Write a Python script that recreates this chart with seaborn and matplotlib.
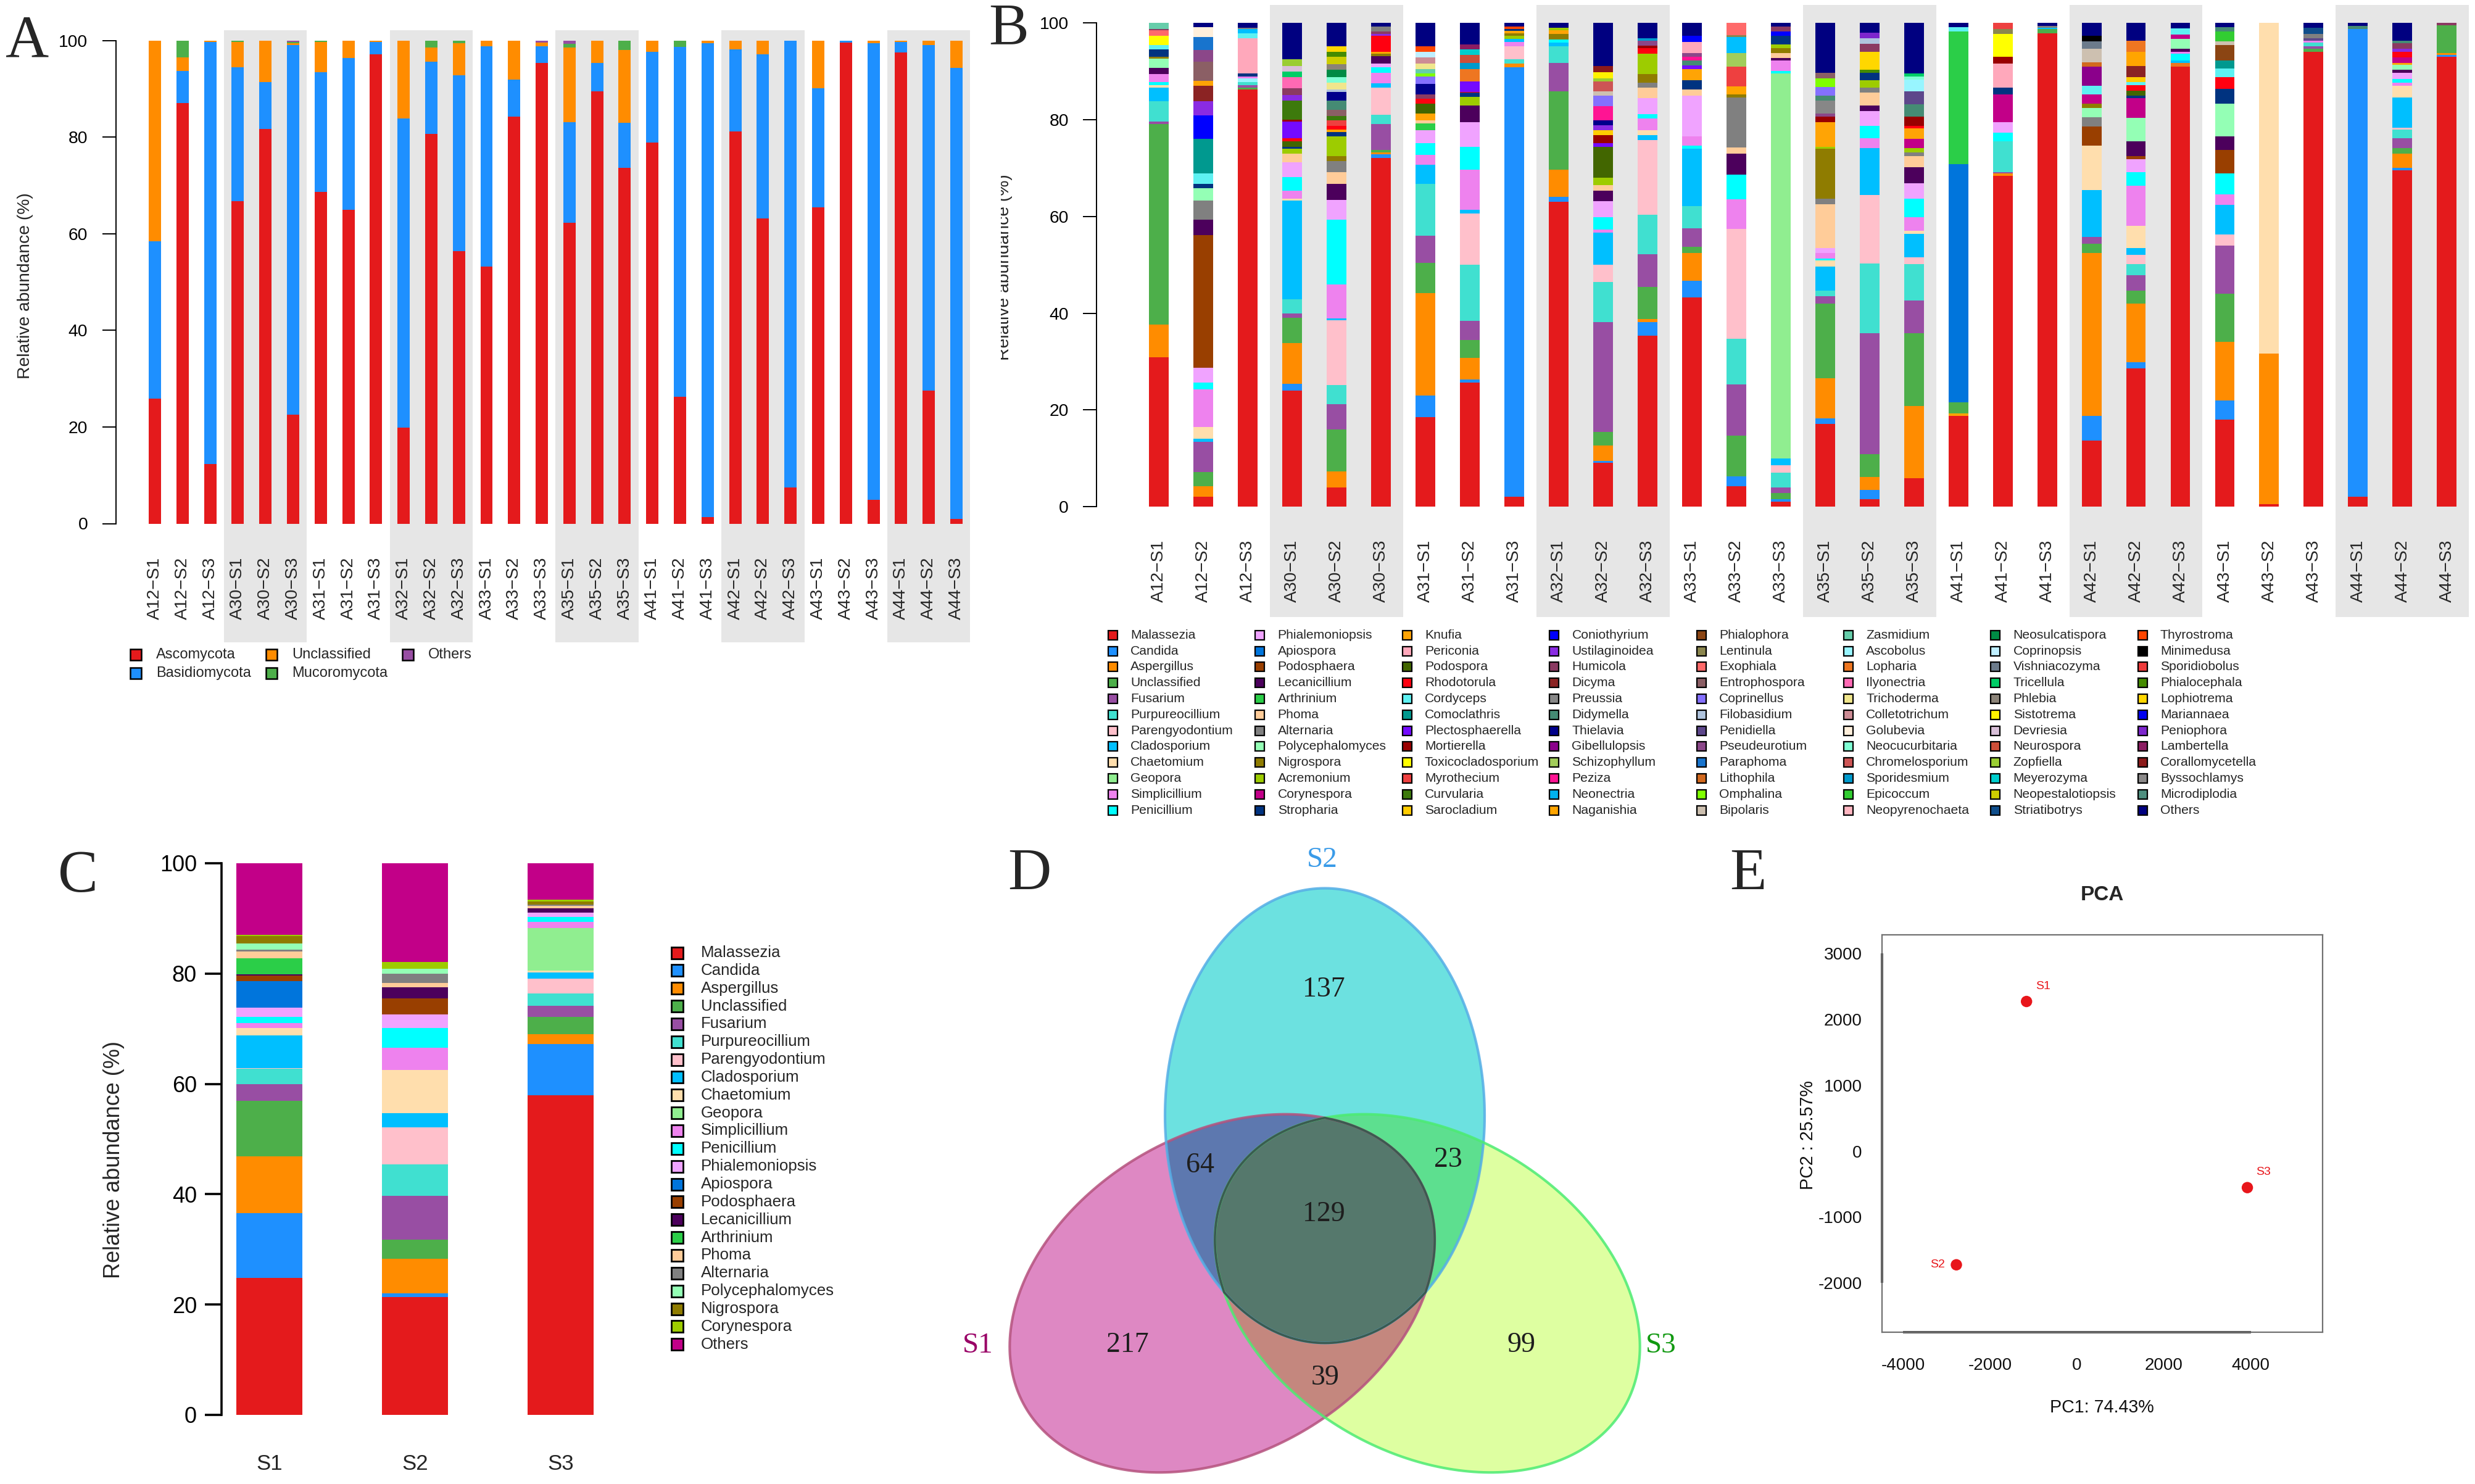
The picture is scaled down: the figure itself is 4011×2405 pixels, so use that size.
import numpy as np
import pandas as pd
import seaborn as sns
import matplotlib.pyplot as plt
from matplotlib.patches import Rectangle, Polygon
from matplotlib.transforms import Bbox, TransformedBbox

sns.set_style("white")
plt.rcParams["font.family"] = ["Liberation Sans", "DejaVu Sans"]
SERIF = ["Liberation Serif", "DejaVu Serif"]

W, H, DPI = 4012, 2405, 200

# === Samples ===
groups = ["12", "30", "31", "32", "33", "35", "41", "42", "43", "44"]
samples = [f"A{g}\u2212S{s}" for g in groups for s in (1, 2, 3)]

# === Panel A: phylum level (%) ===
phyla = ["Ascomycota", "Basidiomycota", "Unclassified", "Mucoromycota", "Others"]
phylum_colors = ["#E41A1C", "#1E90FF", "#FF8C00", "#4DAF4A", "#984EA3"]
ascomycota = [25.9, 87.0, 12.3, 66.8, 81.7, 22.5, 68.7, 64.9, 97.2, 19.9, 80.7, 56.4, 53.2, 84.2, 95.3,
              62.3, 89.5, 73.7, 78.9, 26.3, 1.3, 81.2, 63.2, 7.5, 65.5, 99.6, 4.9, 97.5, 27.5, 0.9]
basidiomycota = [32.6, 6.7, 87.4, 27.7, 9.7, 76.5, 24.7, 31.5, 2.5, 64.0, 14.9, 36.4, 45.6, 7.7, 3.5,
                 20.8, 5.8, 9.3, 18.8, 72.4, 98.1, 17.0, 34.0, 92.5, 24.6, 0.4, 94.5, 2.2, 71.5, 93.4]
unclassified_a = [41.5, 2.8, 0.3, 5.2, 8.6, 0.5, 6.3, 3.6, 0.3, 16.1, 2.9, 6.7, 1.2, 8.1, 0.8,
                  15.4, 4.7, 15.0, 2.3, 0.0, 0.6, 1.8, 2.8, 0.0, 9.9, 0.0, 0.6, 0.3, 1.0, 5.7]
mucoromycota = [0.0, 3.5, 0.0, 0.3, 0.0, 0.2, 0.3, 0.0, 0.0, 0.0, 1.5, 0.5, 0.0, 0.0, 0.0,
                0.8, 0.0, 2.0, 0.0, 1.3, 0.0, 0.0, 0.0, 0.0, 0.0, 0.0, 0.0, 0.0, 0.0, 0.0]
others_a = [0.0, 0.0, 0.0, 0.0, 0.0, 0.3, 0.0, 0.0, 0.0, 0.0, 0.0, 0.0, 0.0, 0.0, 0.4,
            0.7, 0.0, 0.0, 0.0, 0.0, 0.0, 0.0, 0.0, 0.0, 0.0, 0.0, 0.0, 0.0, 0.0, 0.0]

# === Panel B: genus level, legend order and colours ===
genera = [
    "Malassezia", "Candida", "Aspergillus", "Unclassified", "Fusarium", "Purpureocillium",
    "Parengyodontium", "Cladosporium", "Chaetomium", "Geopora", "Simplicillium", "Penicillium",
    "Phialemoniopsis", "Apiospora", "Podosphaera", "Lecanicillium", "Arthrinium", "Phoma",
    "Alternaria", "Polycephalomyces", "Nigrospora", "Acremonium", "Corynespora", "Stropharia",
    "Knufia", "Periconia", "Podospora", "Rhodotorula", "Cordyceps", "Comoclathris",
    "Plectosphaerella", "Mortierella", "Toxicocladosporium", "Myrothecium", "Curvularia", "Sarocladium",
    "Coniothyrium", "Ustilaginoidea", "Humicola", "Dicyma", "Preussia", "Didymella",
    "Thielavia", "Gibellulopsis", "Schizophyllum", "Peziza", "Neonectria", "Naganishia",
    "Phialophora", "Lentinula", "Exophiala", "Entrophospora", "Coprinellus", "Filobasidium",
    "Penidiella", "Pseudeurotium", "Paraphoma", "Lithophila", "Omphalina", "Bipolaris",
    "Zasmidium", "Ascobolus", "Lopharia", "Ilyonectria", "Trichoderma", "Colletotrichum",
    "Golubevia", "Neocucurbitaria", "Chromelosporium", "Sporidesmium", "Epicoccum", "Neopyrenochaeta",
    "Neosulcatispora", "Coprinopsis", "Vishniacozyma", "Tricellula", "Phlebia", "Sistotrema",
    "Devriesia", "Neurospora", "Zopfiella", "Meyerozyma", "Neopestalotiopsis", "Striatibotrys",
    "Thyrostroma", "Minimedusa", "Sporidiobolus", "Phialocephala", "Lophiotrema", "Mariannaea",
    "Peniophora", "Lambertella", "Corallomycetella", "Byssochlamys", "Microdiplodia", "Others",
]
genus_colors = [
    "#E41A1C", "#1E90FF", "#FF8C00", "#4DAF4A", "#984EA3", "#40E0D0",
    "#FFC0CB", "#00BFFF", "#FFDEAD", "#90EE90", "#EE82EE", "#00FFFF",
    "#F0A3FF", "#0075DC", "#993F00", "#4C005C", "#2BCE48", "#FFCC99",
    "#808080", "#94FFB5", "#8F7C00", "#9DCC00", "#C20088", "#003380",
    "#FFA405", "#FFA8BB", "#426600", "#FF0010", "#5EF1F2", "#00998F",
    "#740AFF", "#990000", "#FFFF00", "#EE4040", "#3D7A0C", "#FFCC00",
    "#0000FF", "#8A2BE2", "#8B3A62", "#8B2323", "#878787", "#458B74",
    "#00008B", "#8B008B", "#A2CD5A", "#FF1493", "#00B2EE", "#FFA500",
    "#8B4513", "#8B864E", "#FF6A6A", "#8B5F65", "#8470FF", "#B0C4DE",
    "#5D478B", "#8B4789", "#1874CD", "#D2691E", "#7FFF00", "#CDC0B0",
    "#66CDAA", "#98F5FF", "#EE7621", "#FF69B4", "#F0E68C", "#CD8C95",
    "#FFEFDB", "#7FFFD4", "#CD5555", "#009ACD", "#32CD32", "#FFB6C1",
    "#008B45", "#BFEFFF", "#6C7B8B", "#00CD66", "#8B8378", "#FFF200",
    "#D8BFD8", "#CD4F39", "#9ACD32", "#00CDCD", "#CDCD00", "#104E8B",
    "#FF4500", "#000000", "#EE3B3B", "#458B00", "#FFD700", "#0000EE",
    "#7D26CD", "#8B1C62", "#8B1A1A", "#8B8989", "#4F8F7F", "#000080",
]

# cumulative tops (%) read bottom to top for each sample
b_a12_s1 = [("Malassezia", 30.9), ("Aspergillus", 37.6), ("Unclassified", 79.1), ("Fusarium", 79.6),
            ("Purpureocillium", 83.8), ("Cladosporium", 86.7), ("Chaetomium", 87.1), ("Penicillium", 87.8),
            ("Simplicillium", 89.4), ("Lecanicillium", 90.7), ("Polycephalomyces", 92.7), ("Nigrospora", 93.0),
            ("Stropharia", 94.5), ("Cordyceps", 95.4), ("Toxicocladosporium", 97.4), ("Exophiala", 98.5),
            ("Humicola", 98.7), ("Zasmidium", 100)]
b_a12_s2 = [("Malassezia", 2.1), ("Aspergillus", 4.2), ("Unclassified", 7.1), ("Fusarium", 13.4),
            ("Cladosporium", 14.0), ("Chaetomium", 16.4), ("Simplicillium", 24.2), ("Penicillium", 25.7),
            ("Phialemoniopsis", 28.7), ("Podosphaera", 56.1), ("Lecanicillium", 59.3), ("Alternaria", 63.3),
            ("Polycephalomyces", 65.8), ("Stropharia", 66.7), ("Cordyceps", 68.9), ("Comoclathris", 76.0),
            ("Coniothyrium", 80.9), ("Ustilaginoidea", 83.8), ("Dicyma", 87.0), ("Knufia", 88.1),
            ("Entrophospora", 92.0), ("Pseudeurotium", 94.4), ("Paraphoma", 97.1), ("Golubevia", 99.2),
            ("Others", 100)]
b_a12_s3 = [("Malassezia", 86.3), ("Unclassified", 86.7), ("Fusarium", 87.1), ("Purpureocillium", 87.8),
            ("Ascobolus", 88.5), ("Simplicillium", 89.0), ("Stropharia", 89.6), ("Periconia", 96.8),
            ("Cordyceps", 97.9), ("Cladosporium", 98.7), ("Alternaria", 99.0), ("Others", 100)]
b_a30_s1 = [("Malassezia", 24.0), ("Candida", 25.4), ("Aspergillus", 33.8), ("Unclassified", 39.0),
            ("Fusarium", 40.0), ("Purpureocillium", 42.9), ("Cladosporium", 63.3), ("Chaetomium", 63.7),
            ("Simplicillium", 65.3), ("Penicillium", 68.1), ("Phialemoniopsis", 71.2), ("Phoma", 73.0),
            ("Acremonium", 74.0), ("Stropharia", 74.4), ("Podospora", 75.6), ("Rhodotorula", 76.2),
            ("Plectosphaerella", 79.6), ("Mortierella", 80.0), ("Curvularia", 84.0), ("Ustilaginoidea", 85.1),
            ("Humicola", 86.5), ("Ilyonectria", 88.8), ("Tricellula", 89.9), ("Devriesia", 91.1),
            ("Zopfiella", 92.5), ("Others", 100)]
b_a30_s2 = [("Malassezia", 4.0), ("Aspergillus", 7.3), ("Unclassified", 16.0), ("Fusarium", 21.2),
            ("Purpureocillium", 25.1), ("Parengyodontium", 38.5), ("Cladosporium", 38.9), ("Simplicillium", 45.9),
            ("Penicillium", 59.3), ("Phialemoniopsis", 63.4), ("Lecanicillium", 66.7), ("Phoma", 69.2),
            ("Alternaria", 71.4), ("Nigrospora", 72.5), ("Acremonium", 76.6), ("Stropharia", 77.4),
            ("Naganishia", 77.9), ("Rhodotorula", 78.7), ("Myrothecium", 79.9), ("Curvularia", 80.8),
            ("Entrophospora", 82.0), ("Didymella", 84.0), ("Thielavia", 85.7), ("Filobasidium", 86.2),
            ("Trichoderma", 87.6), ("Neocucurbitaria", 88.8), ("Neosulcatispora", 90.3), ("Phlebia", 91.5),
            ("Neopestalotiopsis", 93.0), ("Phialocephala", 94.1), ("Lophiotrema", 95.2), ("Others", 100)]
b_a30_s3 = [("Malassezia", 72.1), ("Candida", 72.8), ("Aspergillus", 73.3), ("Unclassified", 73.8),
            ("Fusarium", 79.1), ("Purpureocillium", 81.0), ("Parengyodontium", 86.7), ("Cladosporium", 87.5),
            ("Simplicillium", 89.7), ("Penicillium", 90.8), ("Phialemoniopsis", 91.6), ("Lecanicillium", 93.2),
            ("Nigrospora", 93.6), ("Naganishia", 94.1), ("Rhodotorula", 97.3), ("Ustilaginoidea", 97.8),
            ("Humicola", 98.2), ("Alternaria", 99.3), ("Others", 100)]
b_a31_s1 = [("Malassezia", 18.5), ("Candida", 23.0), ("Aspergillus", 44.1), ("Unclassified", 50.4),
            ("Fusarium", 56.0), ("Purpureocillium", 66.7), ("Cladosporium", 70.7), ("Simplicillium", 72.7),
            ("Penicillium", 75.1), ("Phialemoniopsis", 77.8), ("Arthrinium", 79.3), ("Phoma", 79.9),
            ("Knufia", 81.3), ("Podospora", 83.3), ("Rhodotorula", 84.4), ("Humicola", 85.3),
            ("Thielavia", 87.4), ("Coprinellus", 88.9), ("Omphalina", 89.6), ("Zasmidium", 90.5),
            ("Trichoderma", 91.6), ("Colletotrichum", 92.9), ("Coprinopsis", 94.1), ("Thyrostroma", 95.2),
            ("Others", 100)]
b_a31_s2 = [("Malassezia", 25.6), ("Candida", 26.3), ("Aspergillus", 30.8), ("Unclassified", 34.4),
            ("Fusarium", 38.4), ("Purpureocillium", 50.0), ("Parengyodontium", 60.6), ("Cladosporium", 61.4),
            ("Simplicillium", 69.7), ("Penicillium", 74.4), ("Phialemoniopsis", 79.5), ("Lecanicillium", 82.9),
            ("Acremonium", 84.7), ("Stropharia", 85.6), ("Rhodotorula", 85.8), ("Plectosphaerella", 87.9),
            ("Lopharia", 90.5), ("Sporidesmium", 91.8), ("Neurospora", 93.4), ("Meyerozyma", 94.5),
            ("Lambertella", 95.6), ("Others", 100)]
b_a31_s3 = [("Malassezia", 2.1), ("Candida", 90.8), ("Aspergillus", 91.6), ("Purpureocillium", 92.5),
            ("Parengyodontium", 95.2), ("Simplicillium", 96.1), ("Cladosporium", 96.7), ("Acremonium", 97.3),
            ("Nigrospora", 97.9), ("Knufia", 98.4), ("Stropharia", 98.8), ("Thyrostroma", 99.3), ("Others", 100)]
b_a32_s1 = [("Malassezia", 63.0), ("Candida", 64.1), ("Aspergillus", 69.7), ("Unclassified", 85.9),
            ("Fusarium", 91.7), ("Purpureocillium", 95.2), ("Cladosporium", 95.9), ("Penicillium", 96.6),
            ("Nigrospora", 97.7), ("Knufia", 98.5), ("Acremonium", 99.0), ("Others", 100)]
b_a32_s2 = [("Malassezia", 9.0), ("Candida", 9.4), ("Aspergillus", 12.6), ("Unclassified", 15.4),
            ("Fusarium", 38.2), ("Purpureocillium", 46.5), ("Parengyodontium", 50.0), ("Cladosporium", 56.6),
            ("Simplicillium", 57.3), ("Penicillium", 59.9), ("Phialemoniopsis", 63.1), ("Lecanicillium", 65.3),
            ("Phoma", 66.5), ("Acremonium", 68.0), ("Podospora", 74.4), ("Plectosphaerella", 75.2),
            ("Mortierella", 76.8), ("Sarocladium", 77.8), ("Ustilaginoidea", 78.8), ("Thielavia", 79.9),
            ("Peziza", 82.8), ("Coprinellus", 85.0), ("Bipolaris", 85.9), ("Chromelosporium", 87.9),
            ("Zopfiella", 88.5), ("Sistotrema", 89.8), ("Corallomycetella", 91.1), ("Others", 100)]
b_a32_s3 = [("Malassezia", 35.3), ("Candida", 38.2), ("Aspergillus", 38.8), ("Unclassified", 45.4),
            ("Fusarium", 52.2), ("Purpureocillium", 60.4), ("Parengyodontium", 75.8), ("Cladosporium", 76.8),
            ("Chaetomium", 77.8), ("Simplicillium", 80.2), ("Penicillium", 81.2), ("Phialemoniopsis", 84.5),
            ("Phoma", 86.7), ("Alternaria", 87.6), ("Nigrospora", 89.4), ("Acremonium", 93.6),
            ("Rhodotorula", 94.8), ("Mortierella", 95.3), ("Pseudeurotium", 96.3), ("Sporidesmium", 96.9),
            ("Others", 100)]
b_a33_s1 = [("Malassezia", 43.2), ("Candida", 46.7), ("Aspergillus", 52.5), ("Unclassified", 53.7),
            ("Fusarium", 57.5), ("Purpureocillium", 62.1), ("Cladosporium", 74.0), ("Penicillium", 74.7),
            ("Simplicillium", 76.6), ("Phialemoniopsis", 85.0), ("Phoma", 86.2), ("Stropharia", 88.2),
            ("Knufia", 90.5), ("Plectosphaerella", 91.2), ("Didymella", 92.2), ("Peziza", 93.0),
            ("Pseudeurotium", 93.8), ("Periconia", 96.1), ("Coniothyrium", 97.4), ("Others", 100)]
b_a33_s2 = [("Malassezia", 4.2), ("Candida", 6.2), ("Unclassified", 14.7), ("Fusarium", 25.3),
            ("Purpureocillium", 34.7), ("Parengyodontium", 57.4), ("Simplicillium", 63.5), ("Penicillium", 68.7),
            ("Lecanicillium", 73.0), ("Phoma", 74.3), ("Alternaria", 84.6), ("Nigrospora", 85.2),
            ("Naganishia", 86.9), ("Myrothecium", 91.0), ("Schizophyllum", 93.8), ("Cladosporium", 97.1),
            ("Lentinula", 97.5), ("Exophiala", 100)]
b_a33_s3 = [("Malassezia", 1.0), ("Candida", 1.5), ("Unclassified", 2.8), ("Fusarium", 4.0),
            ("Purpureocillium", 7.0), ("Parengyodontium", 8.6), ("Cladosporium", 10.0), ("Geopora", 89.6),
            ("Penicillium", 90.1), ("Simplicillium", 92.2), ("Lecanicillium", 92.8), ("Phoma", 93.8),
            ("Nigrospora", 94.8), ("Acremonium", 95.6), ("Stropharia", 97.4), ("Coniothyrium", 98.3),
            ("Humicola", 99.3), ("Others", 100)]
b_a35_s1 = [("Malassezia", 17.1), ("Candida", 18.2), ("Aspergillus", 26.6), ("Unclassified", 42.0),
            ("Fusarium", 43.5), ("Purpureocillium", 44.7), ("Cladosporium", 49.7), ("Chaetomium", 50.9),
            ("Penicillium", 51.3), ("Simplicillium", 52.4), ("Phialemoniopsis", 53.5), ("Phoma", 62.5),
            ("Alternaria", 63.7), ("Nigrospora", 74.0), ("Acremonium", 74.4), ("Knufia", 79.5),
            ("Mortierella", 80.6), ("Pseudeurotium", 81.3), ("Preussia", 84.0), ("Didymella", 85.0),
            ("Coprinellus", 86.8), ("Omphalina", 88.6), ("Entrophospora", 89.7), ("Others", 100)]
b_a35_s2 = [("Malassezia", 1.5), ("Candida", 3.4), ("Aspergillus", 6.1), ("Unclassified", 10.8),
            ("Fusarium", 35.8), ("Purpureocillium", 50.3), ("Parengyodontium", 64.5), ("Cladosporium", 74.1),
            ("Simplicillium", 76.2), ("Penicillium", 78.7), ("Phialemoniopsis", 81.8), ("Lecanicillium", 82.9),
            ("Phoma", 85.6), ("Alternaria", 86.7), ("Acremonium", 88.2), ("Stropharia", 89.7),
            ("Phialocephala", 90.4), ("Lophiotrema", 94.1), ("Humicola", 95.7), ("Filobasidium", 96.9),
            ("Peniophora", 98.0), ("Others", 100)]
b_a35_s3 = [("Malassezia", 5.9), ("Aspergillus", 20.8), ("Unclassified", 35.9), ("Fusarium", 42.6),
            ("Purpureocillium", 50.2), ("Parengyodontium", 51.6), ("Cladosporium", 56.4), ("Chaetomium", 57.0),
            ("Simplicillium", 59.9), ("Penicillium", 63.7), ("Phialemoniopsis", 66.9), ("Lecanicillium", 70.2),
            ("Phoma", 72.5), ("Alternaria", 73.3), ("Acremonium", 74.1), ("Corynespora", 76.0),
            ("Knufia", 78.2), ("Rhodotorula", 78.7), ("Mortierella", 80.7), ("Didymella", 83.2),
            ("Penidiella", 85.9), ("Ascobolus", 88.3), ("Neocucurbitaria", 89.0), ("Tricellula", 89.6),
            ("Others", 100)]
b_a41_s1 = [("Malassezia", 18.7), ("Knufia", 19.3), ("Unclassified", 21.6), ("Apiospora", 70.8),
            ("Arthrinium", 98.3), ("Cordyceps", 99.1), ("Others", 100)]
b_a41_s2 = [("Malassezia", 68.4), ("Aspergillus", 68.9), ("Fusarium", 69.1), ("Purpureocillium", 75.5),
            ("Penicillium", 77.3), ("Phialemoniopsis", 79.5), ("Corynespora", 85.3), ("Stropharia", 86.7),
            ("Periconia", 91.6), ("Mortierella", 93.0), ("Toxicocladosporium", 97.7), ("Lentinula", 98.8),
            ("Myrothecium", 100)]
b_a41_s3 = [("Malassezia", 97.9), ("Unclassified", 98.7), ("Cladosporium", 99.0), ("Alternaria", 99.4),
            ("Others", 100)]
b_a42_s1 = [("Malassezia", 13.7), ("Candida", 18.8), ("Aspergillus", 52.5), ("Unclassified", 54.4),
            ("Fusarium", 55.8), ("Cladosporium", 65.4), ("Chaetomium", 74.7), ("Podosphaera", 78.6),
            ("Alternaria", 80.5), ("Polycephalomyces", 82.4), ("Nigrospora", 83.3), ("Corynespora", 85.3),
            ("Cordyceps", 87.0), ("Gibellulopsis", 91.0), ("Lithophila", 91.9), ("Bipolaris", 94.7),
            ("Vishniacozyma", 96.2), ("Minimedusa", 97.4), ("Others", 100)]
b_a42_s2 = [("Malassezia", 28.6), ("Candida", 29.9), ("Aspergillus", 42.0), ("Unclassified", 44.7),
            ("Fusarium", 47.8), ("Purpureocillium", 50.1), ("Parengyodontium", 52.0), ("Cladosporium", 53.5),
            ("Chaetomium", 58.1), ("Simplicillium", 66.3), ("Penicillium", 69.1), ("Phialemoniopsis", 71.9),
            ("Podosphaera", 72.5), ("Lecanicillium", 75.5), ("Polycephalomyces", 80.4), ("Corynespora", 84.5),
            ("Stropharia", 85.0), ("Podospora", 86.0), ("Rhodotorula", 87.2), ("Cordyceps", 87.8),
            ("Sarocladium", 88.8), ("Dicyma", 91.1), ("Naganishia", 94.1), ("Lopharia", 96.3), ("Others", 100)]
b_a42_s3 = [("Malassezia", 91.0), ("Lopharia", 91.7), ("Cladosporium", 92.3), ("Penicillium", 93.6),
            ("Simplicillium", 94.1), ("Lecanicillium", 94.7), ("Polycephalomyces", 96.7), ("Corynespora", 97.6),
            ("Cordyceps", 98.9), ("Others", 100)]
b_a43_s1 = [("Malassezia", 18.0), ("Candida", 22.0), ("Aspergillus", 34.1), ("Unclassified", 44.0),
            ("Fusarium", 54.0), ("Parengyodontium", 56.3), ("Cladosporium", 62.4), ("Simplicillium", 64.6),
            ("Penicillium", 68.9), ("Podosphaera", 73.8), ("Lecanicillium", 76.6), ("Polycephalomyces", 83.3),
            ("Stropharia", 86.4), ("Rhodotorula", 88.8), ("Cordyceps", 90.6), ("Comoclathris", 92.3),
            ("Phialophora", 95.4), ("Bipolaris", 96.2), ("Epicoccum", 98.2), ("Didymella", 99.2), ("Others", 100)]
b_a43_s2 = [("Malassezia", 0.5), ("Aspergillus", 31.7), ("Chaetomium", 100)]
b_a43_s3 = [("Malassezia", 94.1), ("Unclassified", 94.7), ("Fusarium", 95.2), ("Purpureocillium", 96.0),
            ("Simplicillium", 96.3), ("Penidiella", 96.8), ("Alternaria", 97.7), ("Striatibotrys", 99.0),
            ("Others", 100)]
b_a44_s1 = [("Malassezia", 2.1), ("Candida", 98.8), ("Didymella", 99.4), ("Others", 100)]
b_a44_s2 = [("Malassezia", 69.5), ("Candida", 70.0), ("Aspergillus", 73.0), ("Unclassified", 74.1),
            ("Fusarium", 76.2), ("Purpureocillium", 77.9), ("Parengyodontium", 78.4), ("Cladosporium", 84.6),
            ("Chaetomium", 87.0), ("Simplicillium", 87.7), ("Penicillium", 88.4), ("Phialemoniopsis", 89.7),
            ("Lecanicillium", 90.3), ("Polycephalomyces", 91.4), ("Knufia", 91.8), ("Corynespora", 92.9),
            ("Rhodotorula", 94.1), ("Ustilaginoidea", 94.7), ("Humicola", 95.8), ("Didymella", 96.3),
            ("Others", 100)]
b_a44_s3 = [("Malassezia", 93.0), ("Candida", 93.4), ("Aspergillus", 93.8), ("Unclassified", 99.5),
            ("Humicola", 100)]

b_bars = [b_a12_s1, b_a12_s2, b_a12_s3, b_a30_s1, b_a30_s2, b_a30_s3, b_a31_s1, b_a31_s2, b_a31_s3,
          b_a32_s1, b_a32_s2, b_a32_s3, b_a33_s1, b_a33_s2, b_a33_s3, b_a35_s1, b_a35_s2, b_a35_s3,
          b_a41_s1, b_a41_s2, b_a41_s3, b_a42_s1, b_a42_s2, b_a42_s3, b_a43_s1, b_a43_s2, b_a43_s3,
          b_a44_s1, b_a44_s2, b_a44_s3]

# === Panel C: pooled genus level (%) ===
c_samples = ["S1", "S2", "S3"]
c_genera = ["Malassezia", "Candida", "Aspergillus", "Unclassified", "Fusarium", "Purpureocillium",
            "Parengyodontium", "Cladosporium", "Chaetomium", "Geopora", "Simplicillium", "Penicillium",
            "Phialemoniopsis", "Apiospora", "Podosphaera", "Lecanicillium", "Arthrinium", "Phoma",
            "Alternaria", "Polycephalomyces", "Nigrospora", "Corynespora", "Others"]
c_s1 = [24.8, 11.8, 10.3, 10.0, 3.0, 2.8, 0.2, 5.9, 1.3, 0.0, 0.9, 1.1, 1.7, 4.8, 1.0, 0.3,
        2.9, 1.2, 0.3, 1.2, 1.3, 0.2, 13.0]
c_s2 = [21.4, 0.6, 6.3, 3.5, 7.9, 5.7, 6.7, 2.6, 7.8, 0.0, 4.1, 3.5, 2.5, 0.0, 2.9, 2.0,
        0.0, 0.8, 1.7, 0.9, 0.0, 1.2, 17.9]
c_s3 = [57.9, 9.3, 1.8, 3.1, 2.1, 2.2, 2.7, 1.1, 0.3, 7.8, 1.1, 0.9, 0.7, 0.0, 0.0, 0.8,
        0.0, 0.5, 0.2, 0.0, 0.6, 0.3, 6.6]

# === Panel D: Venn counts ===
venn_sets = ["S1", "S2", "S3"]
venn_set_colors = ["#990066", "#3A9BE8", "#119911"]
venn_regions = ["S1", "S2", "S3", "S1&S2", "S2&S3", "S1&S3", "S1&S2&S3"]
venn_counts = [217, 137, 99, 64, 23, 39, 129]

# === Panel E: PCA ===
pca_samples = ["S1", "S2", "S3"]
pc1 = [-1163, -2777, 3919]
pc2 = [2271, -1724, -553]

# ------------------------------------------------------------------
fig = plt.figure(figsize=(W / DPI, H / DPI), dpi=DPI)


def px_axes(l, t, r, b):
    return fig.add_axes([l / W, 1 - b / H, (r - l) / W, (b - t) / H])


def stacked_bars(ax, frame, order, pal, width):
    # tallest cumulative layer first; on ties the upper taxon goes first so the lower one stays visible
    frame = frame.assign(pos=frame.groupby("sample").cumcount())
    frame = frame.sort_values(["sample", "top", "pos"], ascending=[True, False, False])
    frame["layer"] = frame.groupby("sample").cumcount()
    for r in range(frame["layer"].max() + 1):
        layer = frame[frame["layer"] == r]
        sns.barplot(data=layer, x="sample", y="top", hue="taxon", order=order, palette=pal,
                    dodge=False, width=width, saturation=1, errorbar=None, legend=False,
                    linewidth=0, ax=ax)


def style_abundance_axis(ax, xlim, tick_len, tick_lw, labelsize, ypad, xpad, rot):
    ax.set_xlim(*xlim)
    ax.set_ylim(0, 100)
    for side in ("top", "right", "bottom"):
        ax.spines[side].set_visible(False)
    ax.spines["left"].set_linewidth(tick_lw)
    ax.spines["left"].set_color("black")
    ax.set_yticks([0, 20, 40, 60, 80, 100])
    ax.tick_params(axis="y", direction="out", length=tick_len, width=tick_lw, labelsize=labelsize,
                   pad=ypad, left=True, colors="black")
    ax.tick_params(axis="x", length=0, pad=xpad, labelsize=labelsize, labelrotation=rot)
    ax.set_xlabel("")
    ax.set_ylabel("")
    ax.patch.set_alpha(0)


# === Panel A ===
ax_a = px_axes(188, 65.6, 1580, 848.5)
a_tops = np.array([ascomycota, basidiomycota, unclassified_a, mucoromycota, others_a]).cumsum(axis=0)
df_a = pd.DataFrame([(s, p, a_tops[j, i]) for i, s in enumerate(samples) for j, p in enumerate(phyla)],
                    columns=["sample", "taxon", "top"])
for k in range(1, len(groups), 2):
    ax_a.add_patch(Rectangle((3 * k - 0.5, -24.6), 3, 126.7, color="#E6E6E6", zorder=0, clip_on=False, lw=0))
stacked_bars(ax_a, df_a, samples, dict(zip(phyla, phylum_colors)), 0.446)
ax_a.set_xticks(range(len(samples)))
ax_a.set_xticklabels(samples)
style_abundance_axis(ax_a, (-1.406, 29.67), 7.9, 0.7, 10.2, 8.6, 19.6, 90)

# === Panel B ===
ax_b = px_axes(1777, 37.3, 4000, 821)
df_b = pd.DataFrame([(samples[i], g, t) for i, bar in enumerate(b_bars) for g, t in bar],
                    columns=["sample", "taxon", "top"])
for k in range(1, len(groups), 2):
    ax_b.add_patch(Rectangle((3 * k - 0.5, -22.8), 3, 126.5, color="#E6E6E6", zorder=0, clip_on=False, lw=0))
stacked_bars(ax_b, df_b, samples, dict(zip(genera, genus_colors)), 0.444)
ax_b.set_xticks(range(len(samples)))
ax_b.set_xticklabels(samples)
style_abundance_axis(ax_b, (-1.399, 29.48), 7.9, 0.7, 10.2, 8.3, 19.4, 90)

# === Panel C ===
ax_c = px_axes(359, 1399, 1000, 2293)
c_tops = np.array([c_s1, c_s2, c_s3]).cumsum(axis=1)
df_c = pd.DataFrame([(s, g, c_tops[i, j]) for i, s in enumerate(c_samples) for j, g in enumerate(c_genera)],
                    columns=["sample", "taxon", "top"])
stacked_bars(ax_c, df_c, c_samples, dict(zip(c_genera, genus_colors[:len(c_genera)])), 0.454)
ax_c.set_xticks(range(3))
ax_c.set_xticklabels(c_samples)
style_abundance_axis(ax_c, (-0.329, 2.387), 9.7, 1.3, 13, 4.7, 22.5, 0)
ax_c.tick_params(axis="x", labelsize=12.5)

# === Panel E ===
ax_e = px_axes(3049.6, 1514.6, 3763.7, 2158.6)
df_e = pd.DataFrame({"PC1": pc1, "PC2": pc2, "sample": pca_samples})
sns.scatterplot(data=df_e, x="PC1", y="PC2", color="#E8161B", s=44, edgecolor="none", ax=ax_e)
ax_e.set_xlim(-4494, 5646)
ax_e.set_ylim(-2743, 3286)
ax_e.set_xticks([-4000, -2000, 0, 2000, 4000])
ax_e.set_xticklabels(["-4000", "-2000", "0", "2000", "4000"])
ax_e.set_yticks([-2000, -1000, 0, 1000, 2000, 3000])
ax_e.set_yticklabels(["-2000", "-1000", "0", "1000", "2000", "3000"])
ax_e.set_xlabel("")
ax_e.set_ylabel("")
for sp in ax_e.spines.values():
    sp.set_visible(True)
    sp.set_color("#707070")
    sp.set_linewidth(0.8)
ax_e.tick_params(axis="x", direction="out", length=6.5, width=0.9, labelsize=10, pad=8.5, colors="#111111")
ax_e.tick_params(axis="y", direction="out", length=6.5, width=0.9, labelsize=10, pad=5.0, colors="#111111")
ax_e.plot([-4000, 4000], [-2743, -2743], color="#222222", lw=1.3, clip_on=False, solid_capstyle="butt")
ax_e.plot([-4494, -4494], [-2000, 3000], color="#222222", lw=1.3, clip_on=False, solid_capstyle="butt")
for name, x, y in zip(pca_samples, pc1, pc2):
    off = (-11, 0) if x < -2000 and y < 0 else (9.5, 9)
    ax_e.annotate(name, (x, y), xytext=off, textcoords="offset points", color="#E8161B",
                  fontsize=7, ha="center", va="center")

# === Overlay in pixel coordinates ===
ov = fig.add_axes([0, 0, 1, 1])
ov.set_xlim(0, W)
ov.set_ylim(H, 0)
ov.axis("off")

for letter, x, y in [("A", 9, 91), ("B", 1602, 72), ("C", 94, 1445), ("D", 1633, 1442), ("E", 2803, 1442)]:
    ov.text(x, y, letter, fontsize=35, family=SERIF, ha="left", va="baseline")

# axis labels
ov.text(40.8, 463, "Relative abundance (%)", rotation=90, ha="center", va="center", fontsize=10.2)
yl_b = ov.text(1628, 433, "Relative abundance (%)", rotation=90, ha="center", va="center", fontsize=10.2)
yl_b.set_clip_on(True)
yl_b.set_clip_box(TransformedBbox(Bbox([[1622 / W, 0.0], [1.0, 1.0]]), fig.transFigure))
ov.text(185, 1879, "Relative abundance (%)", rotation=90, ha="center", va="center", fontsize=13)
ov.text(3406.6, 1459, "PCA", ha="center", va="baseline", fontsize=12, fontweight="bold")
ov.text(3406.6, 2281, "PC1: 74.43%", ha="center", va="center", fontsize=10.3, color="#111111")
ov.text(2930, 1839, "PC2 : 25.57%", rotation=90, ha="center", va="center", fontsize=10.3, color="#111111")

# legend A (2 rows, column-major)
for i, (name, col) in enumerate(zip(phyla, phylum_colors)):
    cx, cy = 219.7 + 220.5 * (i // 2), 1060.7 + 30 * (i % 2)
    ov.add_patch(Rectangle((cx - 9, cy - 9), 18, 18, facecolor=col, edgecolor="black", lw=0.9))
    ov.text(cx + 33, cy, name, va="center", ha="left", fontsize=8.5)

# legend B (12 rows, column-major)
for i, (name, col) in enumerate(zip(genera, genus_colors)):
    cx, cy = 1803.6 + 238.4 * (i // 12), 1029.3 + 25.8 * (i % 12)
    ov.add_patch(Rectangle((cx - 7.5, cy - 7.5), 15, 15, facecolor=col, edgecolor="black", lw=0.8))
    ov.text(cx + 28.6, cy, name, va="center", ha="left", fontsize=7.6)

# legend C
for i, (name, col) in enumerate(zip(c_genera, genus_colors)):
    cx, cy = 1098, 1544 + 28.85 * i
    ov.add_patch(Rectangle((cx - 9.5, cy - 9.5), 19, 19, facecolor=col, edgecolor="black", lw=1.0))
    ov.text(cx + 38, cy, name, va="center", ha="left", fontsize=9.3)


# === Panel D: three-set Venn ===
def ellipse_pts(cx, cy, ux, uy, a, b, n=260):
    t = np.linspace(0, 2 * np.pi, n, endpoint=False)
    vx, vy = -uy, ux
    return np.column_stack([cx + a * np.cos(t) * ux + b * np.sin(t) * vx,
                            cy + a * np.cos(t) * uy + b * np.sin(t) * vy])


def _cross(o, p, q):
    return (p[0] - o[0]) * (q[1] - o[1]) - (p[1] - o[1]) * (q[0] - o[0])


def _hit(p1, p2, a, b):
    d1, d2 = p2 - p1, b - a
    den = d1[0] * d2[1] - d1[1] * d2[0]
    t = ((a[0] - p1[0]) * d2[1] - (a[1] - p1[1]) * d2[0]) / den
    return p1 + t * d1


def clip_poly(subject, clipper):
    # Sutherland-Hodgman, clipper is convex
    sign = np.sign(sum(_cross(clipper[0], clipper[i], clipper[i + 1]) for i in range(1, len(clipper) - 1)))
    out = [np.asarray(p) for p in subject]
    for i in range(len(clipper)):
        a, b = clipper[i], clipper[(i + 1) % len(clipper)]
        inp, out = out, []
        if not inp:
            break
        s = inp[-1]
        for e in inp:
            e_in = _cross(a, b, e) * sign >= 0
            s_in = _cross(a, b, s) * sign >= 0
            if e_in:
                if not s_in:
                    out.append(_hit(s, e, a, b))
                out.append(e)
            elif s_in:
                out.append(_hit(s, e, a, b))
            s = e
    return np.array(out)


vc, rad, semi_a, semi_b = (2147.0, 2000.0), 192.0, 368.5, 259.0
dirs = {"S1": (-np.cos(np.pi / 6), np.sin(np.pi / 6)), "S2": (0.0, -1.0), "S3": (np.cos(np.pi / 6), np.sin(np.pi / 6))}
shapes = {k: ellipse_pts(vc[0] + rad * u[0], vc[1] + rad * u[1], u[0], u[1], semi_a, semi_b) for k, u in dirs.items()}
only_colors = {"S1": "#DE88C3", "S2": "#6CE1E0", "S3": "#DEFFA1"}
for k in ["S1", "S3", "S2"]:
    ov.add_patch(Polygon(shapes[k], closed=True, facecolor=only_colors[k], lw=0, zorder=1))
pair_colors = {("S1", "S2"): "#5D78AF", ("S2", "S3"): "#5DDF8F", ("S1", "S3"): "#C4877E"}
for (p, q), col in pair_colors.items():
    ov.add_patch(Polygon(clip_poly(shapes[p], shapes[q]), closed=True, facecolor=col, lw=0, zorder=2))
triple = clip_poly(clip_poly(shapes["S1"], shapes["S2"]), shapes["S3"])
ov.add_patch(Polygon(triple, closed=True, facecolor="#55786C", lw=0, zorder=3))
edge_colors = {"S1": "#B5527E", "S2": "#55AEE6", "S3": "#4CEB72"}
for k in ["S1", "S2", "S3"]:
    ov.add_patch(Polygon(shapes[k], closed=True, fill=False, edgecolor=edge_colors[k], lw=1.5,
                         alpha=0.85, zorder=4))
ov.add_patch(Polygon(triple, closed=True, fill=False, edgecolor="#3B5A50", lw=1.3, zorder=4))

venn_text_pos = [(1827.5, 2180), (2145, 1603.6), (2466, 2180), (1945, 1889), (2347, 1880),
                 (2148, 2233), (2145, 1968)]
for (x, y), n in zip(venn_text_pos, venn_counts):
    ov.text(x, y, str(n), fontsize=16.5, family=SERIF, ha="center", va="center", color="#1E1E1E", zorder=5)
for name, col, (x, y) in zip(venn_sets, venn_set_colors, [(1585, 2181), (2142.6, 1394), (2691.5, 2181)]):
    ov.text(x, y, name, fontsize=17, family=SERIF, ha="center", va="center", color=col, zorder=5)

fig.savefig("out.png", dpi=DPI)
